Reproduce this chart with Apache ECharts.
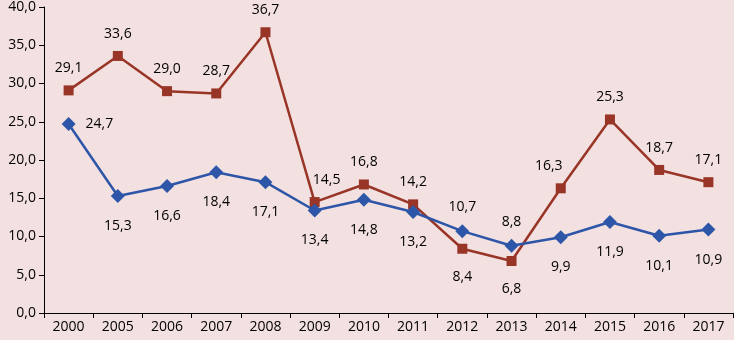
<!DOCTYPE html>
<html>
<head>
<meta charset="utf-8">
<script src="https://cdn.jsdelivr.net/npm/echarts@6/dist/echarts.min.js"></script>
<style>
  html, body { margin: 0; padding: 0; background: #f3e0e0; }
  #chart { width: 734px; height: 340px; }
</style>
</head>
<body>
<div id="chart"></div>
<script>
const years = ['2000', '2005', '2006', '2007', '2008', '2009', '2010', '2011', '2012', '2013', '2014', '2015', '2016', '2017']
const redValues = [29.1, 33.6, 29.0, 28.7, 36.7, 14.5, 16.8, 14.2, 8.4, 6.8, 16.3, 25.3, 18.7, 17.1]
const blueValues = [24.7, 15.3, 16.6, 18.4, 17.1, 13.4, 14.8, 13.2, 10.7, 8.8, 9.9, 11.9, 10.1, 10.9]
// label placement per point
const redPos = ['top', 'top', 'top', 'top', 'top', 'top', 'top', 'top', 'bottom', 'bottom', 'top', 'top', 'top', 'top']
const bluePos = ['right', 'bottom', 'bottom', 'bottom', 'bottom', 'bottom', 'bottom', 'bottom', 'top', 'top', 'bottom', 'bottom', 'bottom', 'bottom']

const fmt = (v) => v.toFixed(1).replace('.', ',')
const font = 'Open Sans'

const chart = echarts.init(document.getElementById('chart'))

const dist = { top: 10, bottom: 16, right: 10 }
const makeData = (vals, pos, shift) =>
  vals.map((v, i) => ({
    value: v,
    label: { position: pos[i], distance: dist[pos[i]], offset: [shift[i] || 0, 0] },
  }))

const redShift = { 5: 12, 10: -12 }

chart.setOption({
  backgroundColor: '#f3e0e0',
  animation: false,
  grid: { left: 44, right: 1, top: 6, bottom: 27 },
  xAxis: {
    type: 'category',
    data: years,
    boundaryGap: true,
    axisLine: { lineStyle: { color: '#000', width: 1 } },
    axisTick: { show: true, length: 5, lineStyle: { color: '#000' } },
    axisLabel: { color: '#000', fontFamily: font, fontSize: 14, margin: 7 },
  },
  yAxis: {
    type: 'value',
    min: 0,
    max: 40,
    interval: 5,
    splitLine: { show: false },
    axisLine: { show: true, lineStyle: { color: '#000', width: 1 } },
    axisTick: { show: true, length: 5, lineStyle: { color: '#000' } },
    axisLabel: { color: '#000', fontFamily: font, fontSize: 14, margin: 8, formatter: (v) => fmt(v) },
  },
  series: [
    {
      type: 'line',
      data: makeData(redValues, redPos, redShift),
      symbol: 'rect',
      symbolSize: 10,
      itemStyle: { color: '#983527' },
      lineStyle: { color: '#983527', width: 2.5 },
      label: { show: true, color: '#000', fontFamily: font, fontSize: 14, formatter: (p) => fmt(p.value) },
      z: 2,
    },
    {
      type: 'line',
      data: makeData(blueValues, bluePos, {}),
      symbol: 'diamond',
      symbolSize: 14,
      itemStyle: { color: '#2d55a8' },
      lineStyle: { color: '#2d55a8', width: 2.5 },
      label: { show: true, color: '#000', fontFamily: font, fontSize: 14, formatter: (p) => fmt(p.value) },
      z: 3,
    },
  ],
})
</script>
</body>
</html>
